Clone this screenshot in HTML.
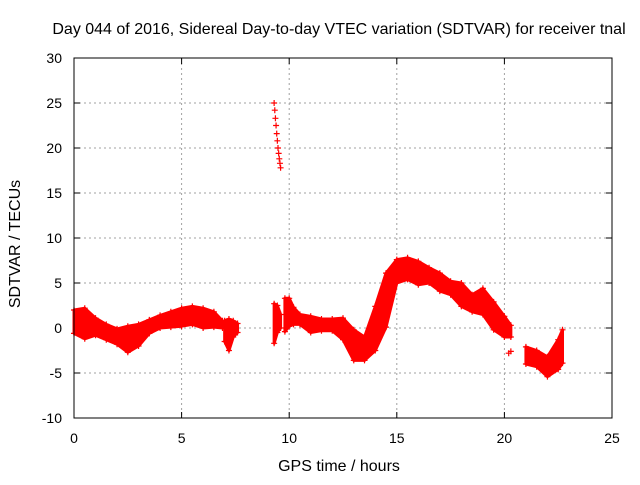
<!DOCTYPE html>
<html><head><meta charset="utf-8"><style>
body{margin:0;background:#fff;font-family:"Liberation Sans",sans-serif}
svg text{font-family:"Liberation Sans",sans-serif;font-size:14px;fill:#000}
svg text.big{font-size:16px}
</style></head><body>
<svg id="c" width="640" height="480" xmlns="http://www.w3.org/2000/svg">
<text class="big" x="339" y="34" text-anchor="middle">Day 044 of 2016, Sidereal Day-to-day VTEC variation (SDTVAR) for receiver tnal</text>
<text class="big" x="339" y="471" text-anchor="middle">GPS time / hours</text>
<text class="big" transform="translate(20,244) rotate(-90)" text-anchor="middle">SDTVAR / TECUs</text>
<g id="grid"></g><g id="data"></g>
<rect x="74" y="58" width="538" height="360" fill="none" stroke="#000" stroke-width="1"/>
</svg>
<script>
const xTicks=[0,5,10,15,20,25];
const yTicks=[-10,-5,0,5,10,15,20,25,30];
const seg1T=[0,0.5,1,1.5,2,2.5,3,3.5,4,4.5,5,5.5,6,6.5,6.9];
const seg1U=[2,2.2,1.1,0.4,-0.1,0.2,0.4,0.9,1.4,1.8,2.2,2.4,2.2,1.8,0.8];
const seg1L=[-0.6,-1.2,-0.8,-1.3,-1.8,-2.7,-2,-0.6,0,0.1,0.2,0.4,0,0.1,0];
const seg2T=[7.0,7.2,7.4,7.6];
const seg2U=[0.8,1,0.8,0.5];
const seg2L=[-1.5,-2.5,-1,-0.5];
const seg3T=[9.3,9.45,9.6];
const seg3U=[2.7,2.5,1.5];
const seg3L=[-1.7,-0.5,0];
const seg4T=[9.8,10,10.2,10.5,11,11.5,12,12.5,13,13.5,14,14.5,15,15.5,16,16.5,17,17.5,18,18.5,19,19.5,20,20.3];
const seg4U=[3.3,3.3,2.3,1.5,1.3,1,1,1.1,-0.2,-1,2.4,6.1,7.6,7.8,7.4,6.7,6.1,5.2,5,3.7,4.4,2.9,1.3,0.3];
const seg4L=[-0.4,0.2,0.4,0.4,-0.5,-0.3,-0.3,-1.3,-3.6,-3.6,-2.5,0.1,5,5.4,4.8,5,4.1,3.7,2.4,1.8,1.5,-0.2,-1,-1];
const seg5T=[21,21.5,22,22.5,22.7];
const seg5U=[-2.1,-2.5,-3.2,-1.3,-0.2];
const seg5L=[-4,-4.3,-5.4,-4.6,-3.9];
const spikeT=[9.3,9.33,9.36,9.39,9.42,9.45,9.48,9.51,9.54,9.57,9.6];
const spikeV=[25,24.2,23.3,22.5,21.6,20.8,20,19.4,18.8,18.3,17.8];
const blobT=[20.2,20.3];
const blobV=[-2.8,-2.6];

const X=t=>74+t*(538/25), Y=v=>418-(v+10)*9;
const NS="http://www.w3.org/2000/svg";
const grid=document.getElementById('grid'),dg=document.getElementById('data');
function mk(tag,attrs,parent){const e=document.createElementNS(NS,tag);for(const k in attrs)e.setAttribute(k,attrs[k]);parent.appendChild(e);return e;}
xTicks.forEach(t=>{
  if(t>0&&t<25){const l=mk('line',{x1:X(t),x2:X(t),y1:58,y2:418,stroke:'#a0a0a0','stroke-dasharray':'2,3'},grid);
  
  }
  mk('line',{x1:X(t),x2:X(t),y1:418,y2:412,stroke:'#000'},grid);
  mk('line',{x1:X(t),x2:X(t),y1:58,y2:64,stroke:'#000'},grid);
  const tx=mk('text',{x:X(t),y:443,'text-anchor':'middle'},grid);tx.textContent=t;
  
  
});
yTicks.forEach(v=>{
  if(v>-10&&v<30){const l=mk('line',{x1:74,x2:612,y1:Y(v),y2:Y(v),stroke:'#a0a0a0','stroke-dasharray':'2,3'},grid);
  
  }
  mk('line',{x1:74,x2:80,y1:Y(v),y2:Y(v),stroke:'#000'},grid);
  mk('line',{x1:612,x2:606,y1:Y(v),y2:Y(v),stroke:'#000'},grid);
  const tx=mk('text',{x:62,y:Y(v)+5,'text-anchor':'end'},grid);tx.textContent=v;
  
  
});
function plus(t,v){
  const p=mk('path',{d:`M${X(t)-3},${Y(v)}h6M${X(t)},${Y(v)-3}v6`,stroke:'#f00','stroke-width':1.2},dg);
  
  
}
function band(T,U,L){
  let d='M'+T.map((t,i)=>X(t)+','+Y(U[i])).join('L')+'L'+T.slice().reverse().map((t,j)=>{const i=T.length-1-j;return X(t)+','+Y(L[i]);}).join('L')+'Z';
  const p=mk('path',{d:d,fill:'#f00',stroke:'#f00','stroke-width':3,'stroke-linejoin':'round'},dg);
  
  
  T.forEach((t,i)=>{plus(t,U[i]);plus(t,L[i]);});
}
band(seg1T,seg1U,seg1L);band(seg2T,seg2U,seg2L);band(seg3T,seg3U,seg3L);band(seg4T,seg4U,seg4L);band(seg5T,seg5U,seg5L);
spikeT.forEach((t,i)=>plus(t,spikeV[i]));
blobT.forEach((t,i)=>plus(t,blobV[i]));
</script>
</body></html>
